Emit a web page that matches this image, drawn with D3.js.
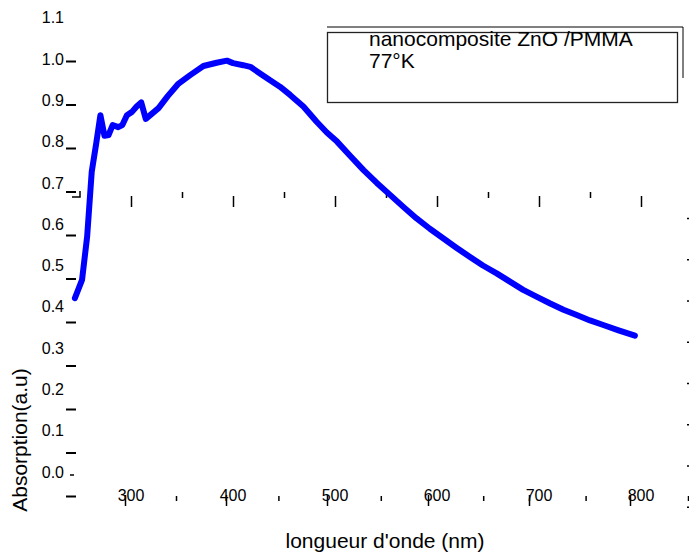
<!DOCTYPE html>
<html>
<head>
<meta charset="utf-8">
<script src="https://cdn.jsdelivr.net/npm/d3@7"></script>
<style>
  body { margin: 0; background: #fff; }
  text { font-family: "Liberation Sans", Arial, sans-serif; fill: #000; }
</style>
</head>
<body>
<div id="chart"></div>
<script>
const width = 689
const height = 555

// absorption spectrum
const wavelength = [245, 252, 257, 261.5, 266, 270, 274, 278, 282, 287.5, 291.5, 296, 301, 305.5, 310, 314.5,
  327, 336, 346, 358, 371, 384, 394, 400, 410, 417, 426.5, 436, 446, 456, 469, 482, 492, 502, 515, 528, 541,
  554, 567, 580, 593, 606, 619, 632, 645, 658.5, 671.5, 684.5, 698, 711, 724, 737, 750, 763, 778, 794]
const absorption = [0.421, 0.465, 0.570, 0.727, 0.797, 0.864, 0.814, 0.816, 0.840, 0.835, 0.840, 0.864,
  0.872, 0.885, 0.895, 0.855, 0.881, 0.910, 0.939, 0.961, 0.983, 0.991, 0.996, 0.990, 0.985, 0.981, 0.965,
  0.949, 0.933, 0.913, 0.885, 0.848, 0.822, 0.800, 0.765, 0.731, 0.700, 0.671, 0.642, 0.614, 0.589, 0.566,
  0.543, 0.521, 0.500, 0.481, 0.461, 0.441, 0.424, 0.408, 0.393, 0.380, 0.367, 0.356, 0.343, 0.330]

const yTickLabels = ['0.0', '0.1', '0.2', '0.3', '0.4', '0.5', '0.6', '0.7', '0.8', '0.9', '1.0', '1.1']
const xTickLabels = ['300', '400', '500', '600', '700', '800']
const xMinorTicks = [350, 450, 550, 650, 750]
const yDashTicks = [0, 0.1, 0.2, 0.3, 0.4, 0.5, 0.6, 0.7, 0.8, 0.9, 1.0]
const yRightTicks = [0, 0.1, 0.2, 0.3, 0.4, 0.5, 0.6, 0.7]
const legendLines = ['nanocomposite ZnO /PMMA', '77°K']
const xTitle = "longueur d'onde (nm)"
const yTitle = 'Absorption(a.u)'

const svg = d3.select('#chart')
  .append('svg')
  .attr('width', width)
  .attr('height', height)

const x = d3.scaleLinear().domain([300, 800]).range([131, 641])
const y = d3.scaleLinear().domain([0, 1.1]).range([472, 17.7])

// the tick marks of this chart do not sit on its labels, so they get their own scales
const yDash = d3.scaleLinear().domain([0, 1]).range([496, 61])
const yRight = d3.scaleLinear().domain([0, 0.7]).range([506.7, 218])
const xBottomMajor = d3.scaleLinear().domain([300, 800]).range([125, 630])
const xBottomMinor = d3.scaleLinear().domain([350, 850]).range([176, 688])

const tidy = (g, w) => {
  g.select('.domain').remove()
  g.selectAll('.tick line').attr('stroke', '#000').attr('stroke-width', w)
}

// y labels
svg.append('g')
  .attr('transform', 'translate(64,0)')
  .call(d3.axisLeft(y).tickValues(yTickLabels.map(Number)).tickFormat((d, i) => yTickLabels[i]).tickSize(0).tickPadding(0))
  .call(g => g.select('.domain').remove())
  .call(g => g.selectAll('text').style('font-size', '16px').attr('fill', '#000'))

// y dashes
svg.append('g')
  .attr('transform', 'translate(76,0)')
  .call(d3.axisLeft(yDash).tickValues(yDashTicks).tickFormat('').tickSize(10))
  .call(g => tidy(g, 2))

svg.append('line')
  .attr('x1', 70).attr('x2', 74)
  .attr('y1', y(0) + 3).attr('y2', y(0) + 3)
  .attr('stroke', '#000').attr('stroke-width', 1.5)

// right tiny ticks
svg.append('g')
  .attr('transform', 'translate(687,0)')
  .call(d3.axisRight(yRight).tickValues(yRightTicks).tickFormat('').tickSize(2))
  .call(g => tidy(g, 1.5))

// middle row of x ticks
svg.append('g')
  .attr('transform', 'translate(0,196)')
  .call(d3.axisBottom(x).tickValues(xTickLabels.map(Number)).tickFormat('').tickSize(11))
  .call(g => tidy(g, 1.5))
svg.append('g')
  .attr('transform', 'translate(0,192)')
  .call(d3.axisBottom(x).tickValues(xMinorTicks).tickFormat('').tickSize(6))
  .call(g => tidy(g, 1.5))

// corner next to 0.7
svg.append('path')
  .attr('d', `M${x(250) - 8},197H${x(250)}V191`)
  .attr('fill', 'none').attr('stroke', '#000').attr('stroke-width', 1.5)

// bottom row of x ticks
svg.append('g')
  .attr('transform', 'translate(0,495)')
  .call(d3.axisBottom(xBottomMajor).tickValues(xTickLabels.map(Number)).tickFormat('').tickSize(11))
  .call(g => tidy(g, 1.5))
svg.append('g')
  .attr('transform', 'translate(0,496)')
  .call(d3.axisBottom(xBottomMinor).tickValues([350, 450, 550, 650, 750, 850]).tickFormat('').tickSize(5))
  .call(g => tidy(g, 1.5))

// x labels
svg.append('g')
  .selectAll('text')
  .data(xTickLabels)
  .join('text')
  .attr('x', d => x(+d))
  .attr('y', 501)
  .attr('text-anchor', 'middle')
  .style('font-size', '16px')
  .text(d => d)

// curve
const line = d3.line().x(d => x(d[0])).y(d => y(d[1]))
svg.append('path')
  .datum(wavelength.map((w, i) => [w, absorption[i]]))
  .attr('d', line)
  .attr('fill', 'none')
  .attr('stroke', '#0000ff')
  .attr('stroke-width', 6)
  .attr('stroke-linejoin', 'round')
  .attr('stroke-linecap', 'round')

// titles
svg.append('text')
  .attr('x', 385)
  .attr('y', 548)
  .attr('text-anchor', 'middle')
  .style('font-size', '21px')
  .text(xTitle)

svg.append('text')
  .attr('transform', 'translate(27,440) rotate(-90)')
  .attr('text-anchor', 'middle')
  .style('font-size', '21px')
  .text(yTitle)

// legend box
svg.append('path')
  .attr('d', 'M327,27H683V78')
  .attr('fill', 'none').attr('stroke', '#000').attr('stroke-width', 1)
svg.append('rect')
  .attr('x', 327.5).attr('y', 32.5)
  .attr('width', 350).attr('height', 70)
  .attr('fill', 'none').attr('stroke', '#222').attr('stroke-width', 1.3)
svg.append('g')
  .selectAll('text')
  .data(legendLines)
  .join('text')
  .attr('x', 369)
  .attr('y', (d, i) => 46 + i * 22)
  .style('font-size', '21px')
  .text(d => d)
</script>
</body>
</html>
